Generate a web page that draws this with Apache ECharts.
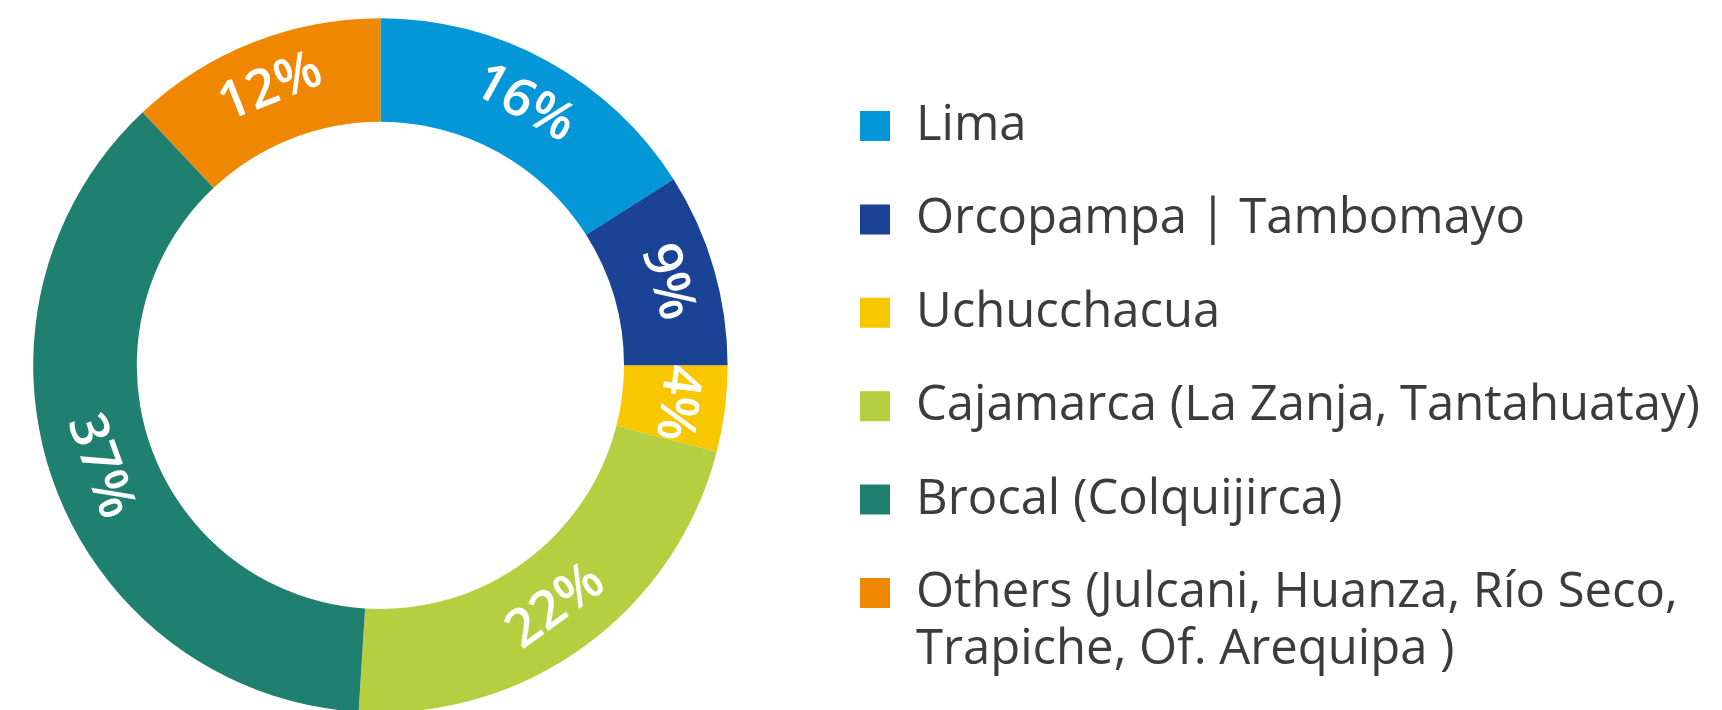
<!DOCTYPE html>
<html>
<head>
<meta charset="utf-8">
<script src="https://cdn.jsdelivr.net/npm/echarts@6/dist/echarts.min.js"></script>
<style>
html,body{margin:0;padding:0;background:#fff;}
#main{width:1722px;height:710px;}
</style>
</head>
<body>
<div id="main"></div>
<script>
// Data
var categories = ['Lima', 'Orcopampa | Tambomayo', 'Uchucchacua', 'Cajamarca (La Zanja, Tantahuatay)', 'Brocal (Colquijirca)', 'Others (Julcani, Huanza, Río Seco,\nTrapiche, Of. Arequipa )'];
var values = [16, 9, 4, 22, 37, 12];
var colors = ['#0397d8', '#1a4396', '#f9c700', '#b6cf40', '#20806f', '#ef8800'];

var total = values.reduce(function (a, b) { return a + b; }, 0);
var cum = 0;
var pieData = values.map(function (v, i) {
  var mid = (cum + v / 2) / total * 360;
  cum += v;
  var flipped = mid > 100 && mid < 280;
  var rot = flipped ? 180 - mid : -mid;
  return { name: categories[i], value: v, itemStyle: { color: colors[i] }, label: { rotate: rot } };
});

// square icon with extra transparent room on its right (gap before text)
var iconPath = 'path://M0,0H30V30H0Z M50.95,0H51V0.02H50.95Z';

var chart = echarts.init(document.getElementById('main'), null, { renderer: 'canvas' });
var legendText = { fontFamily: 'Open Sans', fontSize: 49, color: '#3c3c3c', lineHeight: 57 };
chart.setOption({
  animation: false,
  legend: [
    {
      orient: 'vertical', left: 860, top: 97.5, padding: 0,
      icon: iconPath, itemWidth: 51, itemHeight: 30, itemGap: 36.4,
      selectedMode: false,
      data: categories.slice(0, 5),
      textStyle: legendText
    },
    {
      orient: 'vertical', left: 860, top: 507.5, padding: 0,
      icon: iconPath, itemWidth: 51, itemHeight: 30,
      selectedMode: false,
      data: categories.slice(5),
      formatter: function (name) { return '\n' + name; },
      textStyle: legendText
    }
  ],
  series: [{
    type: 'pie',
    center: [380.4, 365.4],
    radius: [243.6, 347.2],
    startAngle: 90,
    clockwise: true,
    avoidLabelOverlap: false,
    itemStyle: { borderWidth: 0 },
    label: {
      show: true, position: 'inside', formatter: '{c}%',
      color: '#ffffff', fontFamily: 'Open Sans', fontWeight: 600, fontSize: 53
    },
    labelLine: { show: false },
    emphasis: { disabled: true },
    data: pieData
  }]
});
</script>
</body>
</html>
